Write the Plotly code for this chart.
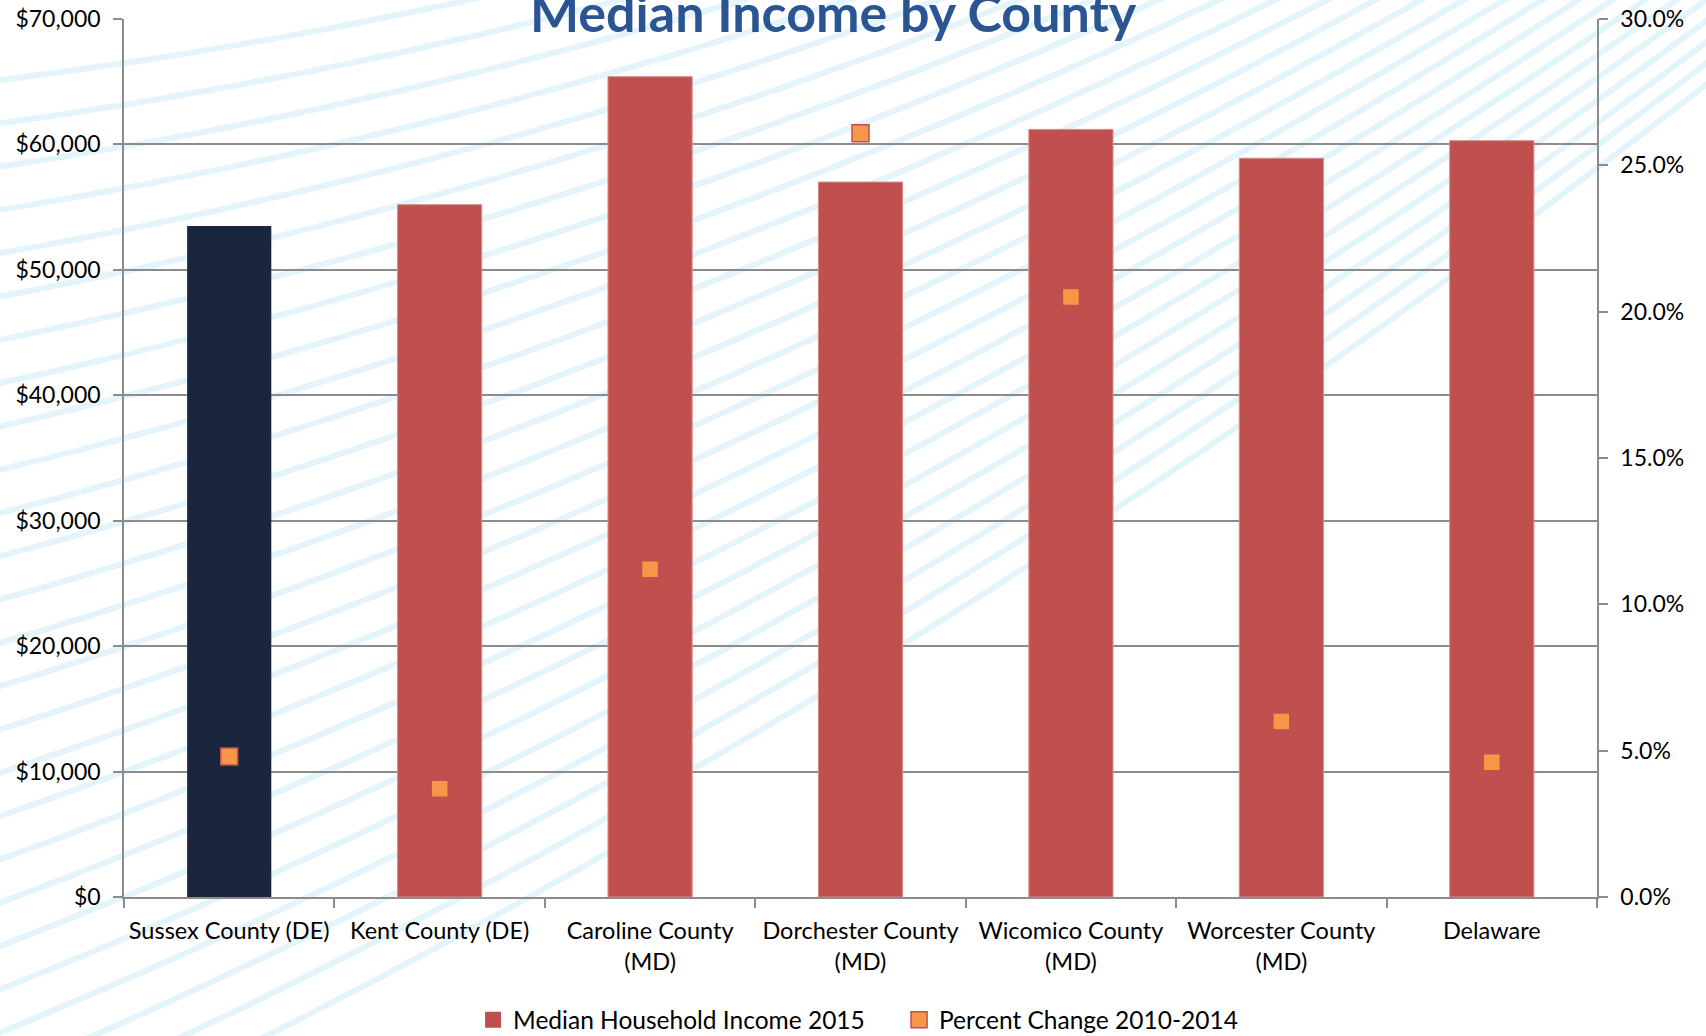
import numpy as np
import plotly.graph_objects as go

# ---- data -------------------------------------------------------------
counties = [
    "Sussex County (DE)",
    "Kent County (DE)",
    "Caroline County<br>(MD)",
    "Dorchester County<br>(MD)",
    "Wicomico County<br>(MD)",
    "Worcester County<br>(MD)",
    "Delaware",
]
median_income_2015 = [53500, 55200, 65400, 57000, 61200, 58900, 60300]
pct_change_2010_2014 = [0.048, 0.037, 0.112, 0.261, 0.205, 0.060, 0.046]

income_ticks = [0, 10000, 20000, 30000, 40000, 50000, 60000, 70000]
income_labels = ["$0", "$10,000", "$20,000", "$30,000", "$40,000",
                 "$50,000", "$60,000", "$70,000"]
pct_ticks = [0.0, 0.05, 0.10, 0.15, 0.20, 0.25, 0.30]
pct_labels = ["0.0%", "5.0%", "10.0%", "15.0%", "20.0%", "25.0%", "30.0%"]

# ---- page geometry ----------------------------------------------------
W, H = 1706, 1036
ML, MR, MT, MB = 124, 109, 19, 139
PW, PH = W - ML - MR, H - MT - MB

FONT = "Lato"
RED = "#C0504D"
NAVY = "#1A263F"
ORANGE = "#F79646"
GRID = "#8C8C8C"


def to_paper(px, py):
    return (px - ML) / PW, 1 - (py - MT) / PH


# light curved pinstripes behind the chart
stripe_shapes = []
for y0 in np.arange(80, 1300, 43.3):
    s0 = -0.10 - 0.0003 * y0
    pts = []
    for px in np.arange(-10, W + 20, 15):
        py = y0 + s0 * px - 0.0001 * px * px
        edge = 798 - 0.664 * (px - 700)
        if py >= edge or py < -15:
            if pts:
                break
            continue
        pts.append(to_paper(px, py))
    if len(pts) < 2:
        continue
    path = "M" + " L".join(f"{a:.5f},{b:.5f}" for a, b in pts)
    stripe_shapes.append(dict(
        type="path", path=path, xref="paper", yref="paper", layer="below",
        line=dict(color="#E4F4FB", width=6),
    ))

bar_colors = [NAVY] + [RED] * (len(counties) - 1)
bar_lines = ["rgba(0,0,0,0)"] + ["#D98C8A"] * (len(counties) - 1)

fig = go.Figure()

fig.add_trace(go.Bar(
    x=counties, y=median_income_2015, width=0.4,
    marker=dict(color=bar_colors, line=dict(color=bar_lines, width=1)),
    showlegend=False, yaxis="y",
))
fig.add_trace(go.Scatter(
    x=counties, y=pct_change_2010_2014, mode="markers", yaxis="y2",
    marker=dict(symbol="square", size=17, color=ORANGE,
                line=dict(color=RED, width=1.5)),
    showlegend=False,
))

# legend entries
fig.add_trace(go.Scatter(
    x=[None], y=[None], mode="markers", name="Median Household Income 2015",
    marker=dict(symbol="square", size=16, color=RED), yaxis="y",
))
fig.add_trace(go.Scatter(
    x=[None], y=[None], mode="markers", name="Percent Change 2010-2014",
    marker=dict(symbol="square", size=16, color=ORANGE,
                line=dict(color=RED, width=1.5)), yaxis="y2",
))

tx, ty = to_paper(833.6, 12)

fig.update_layout(
    width=W, height=H,
    margin=dict(l=ML, r=MR, t=MT, b=MB, pad=0, autoexpand=False),
    paper_bgcolor="white",
    plot_bgcolor="rgba(0,0,0,0)",
    font=dict(family=FONT, size=24, color="#000000"),
    shapes=stripe_shapes,
    xaxis=dict(
        type="category", tickson="boundaries", ticks="outside", ticklen=9,
        tickcolor=GRID, tickwidth=1.5, showline=True, linecolor=GRID,
        linewidth=1.5, showgrid=False, tickfont=dict(size=23.5),
        tickangle=0, automargin=False, ticklabelstandoff=12,
    ),
    yaxis=dict(
        range=[0, 70000], tickvals=income_ticks, ticktext=income_labels,
        ticks="outside", ticklen=9, tickcolor=GRID,
        tickwidth=1.5, showline=True, linecolor=GRID, linewidth=1.5,
        showgrid=True, gridcolor=GRID, gridwidth=1.5, zeroline=False,
        ticklabelstandoff=8, automargin=False, tickfont=dict(size=23),
    ),
    yaxis2=dict(
        range=[0, 0.30], tickvals=pct_ticks, ticktext=pct_labels,
        overlaying="y", side="right", ticks="outside", ticklen=9,
        tickcolor=GRID, tickwidth=1.5, showline=True, linecolor=GRID,
        linewidth=1.5, showgrid=False, zeroline=False, ticklabelstandoff=8,
        automargin=False, tickfont=dict(size=23),
    ),
    legend=dict(
        orientation="h", xref="container", yref="container",
        x=0.527, xanchor="center", y=0.0155, yanchor="middle",
        font=dict(size=24.5), bgcolor="rgba(0,0,0,0)", itemwidth=30,
        entrywidth=381,
    ),
    annotations=[dict(
        text="<b>Median Income by County</b>", xref="paper", yref="paper",
        x=tx, xanchor="center", y=ty, yanchor="middle", showarrow=False,
        font=dict(family=FONT, size=52, color="#2B5592"),
    )],
)

fig.write_html("out.html")
